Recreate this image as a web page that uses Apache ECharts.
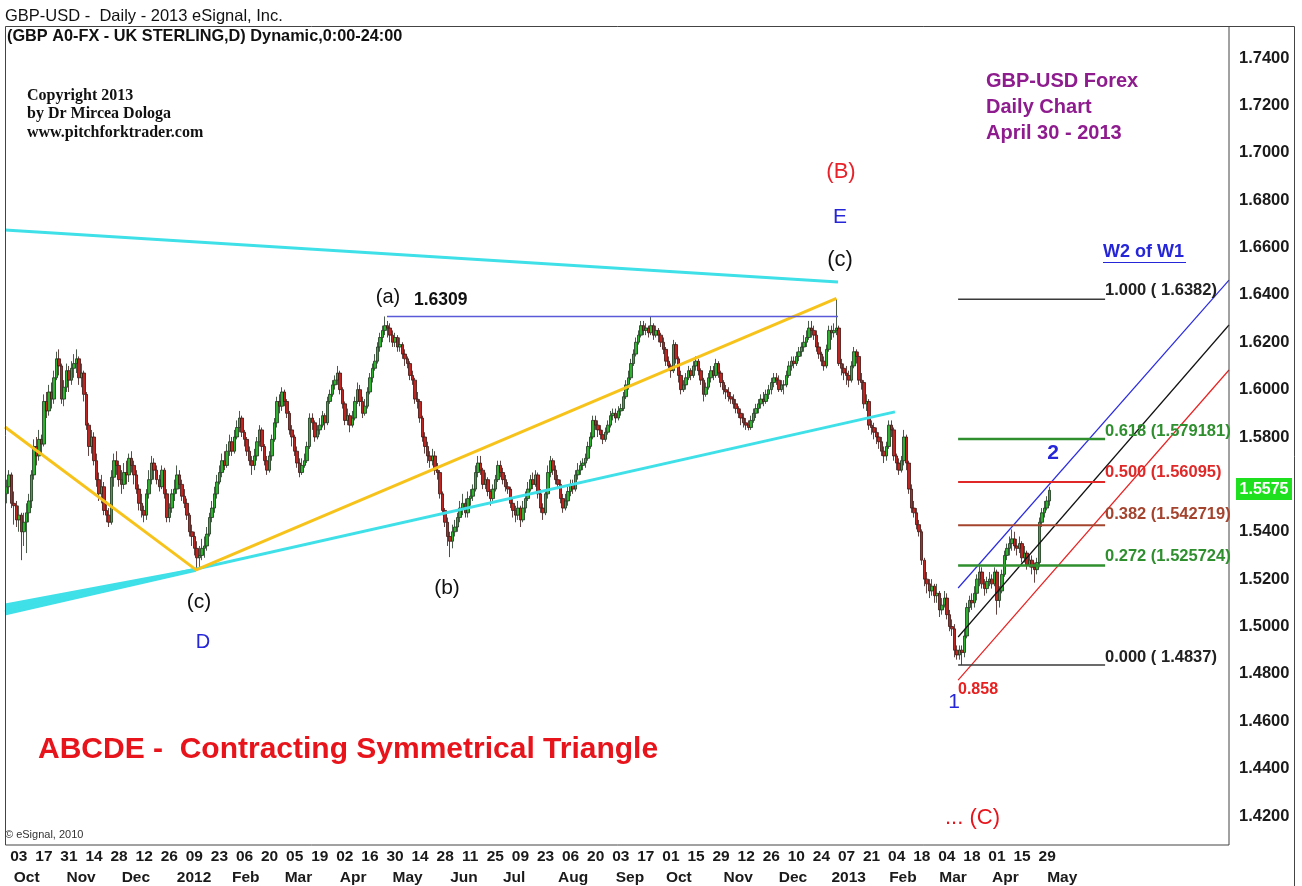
<!DOCTYPE html>
<html><head><meta charset="utf-8">
<script src="https://cdn.jsdelivr.net/npm/echarts@6/dist/echarts.min.js"></script>
<style>html,body{margin:0;padding:0;background:#fff;}#c{width:1302px;height:886px;}</style>
</head><body><div id="c"></div>
<script>
// ---------------- DATA ----------------
// weekday calendar starting Mon 2011-09-26; prices stored as pips after "1." (5590 -> 1.5590)
const startDate = '2011-09-26';
const categoryCount = 488;
const firstOpen = 5560;
const closes = [
5590,5640,5520,5510,5450, 5470,5400,5440,5480,5530, 5640,5760,5720,5790,5770, 5950,5910,5990,5960,6050,
6130,6100,5960,6010,6080, 6040,6090,6110,6130,6050, 6070,5980,5850,5760,5800, 5700,5620,5560,5590,5490,
5470,5440,5630,5700,5680, 5620,5600,5650,5640,5710, 5680,5640,5580,5520,5490, 5470,5560,5620,5690,5660,
5620,5590,5660,5560,5460, 5500,5560,5580,5640,5600, 5550,5520,5470,5400,5380, 5330,5290,5300,5330,5340,
5390,5460,5500,5560,5610, 5650,5700,5680,5740,5780, 5740,5800,5840,5880,5820, 5790,5740,5700,5680,5720,
5780,5830,5760,5700,5660, 5720,5790,5860,5950,5930, 5990,5950,5900,5830,5800, 5740,5690,5650,5680,5700,
5760,5880,5860,5800,5830, 5850,5890,5860,5950,5980, 6020,6040,6070,6000,5940, 5870,5890,5850,5880,5950,
6000,5950,5900,5930,5990, 6050,6090,6120,6180,6220, 6250,6270,6260,6230,6200, 6220,6180,6190,6150,6130,
6110,6060,6040,5960,5950, 5880,5800,5760,5720,5700, 5720,5660,5650,5560,5490, 5440,5380,5360,5400,5420,
5460,5500,5520,5480,5540, 5550,5580,5650,5690,5660, 5600,5620,5570,5540,5580, 5620,5680,5650,5620,5590,
5580,5520,5490,5470,5500, 5450,5500,5540,5580,5620, 5600,5640,5560,5500,5480, 5560,5650,5700,5660,5620,
5600,5540,5500,5530,5570, 5600,5580,5640,5660,5680, 5690,5710,5760,5800,5870, 5850,5830,5810,5790,5820,
5850,5890,5900,5880,5910, 5920,5970,6020,6050,6110, 6150,6200,6230,6270,6250, 6260,6240,6270,6230,6250,
6230,6200,6170,6120,6100, 6080,6190,6130,6060,6000, 6020,6050,6080,6060,6100, 6120,6080,6040,5980,6010,
6050,6080,6060,6110,6070, 6030,6000,5990,5970,5960, 5940,5920,5900,5880,5860, 5850,5840,5870,5900,5920,
5940,5960,5950,5980,6000, 6030,6050,6040,6000,6020, 6020,6060,6100,6120,6110, 6140,6160,6180,6200,6220,
6260,6250,6230,6180,6150, 6120,6100,6170,6250,6240, 6250,6260,6110,6090,6070, 6060,6040,6100,6160,6140,
6040,6030,5940,5950,5850, 5840,5820,5800,5780,5740, 5720,5760,5850,5830,5720, 5690,5660,5700,5800,5690,
5580,5500,5480,5430,5400, 5280,5200,5180,5150,5170, 5130,5140,5070,5090,5120, 5050,5000,4990,4900,4880,
4900,4890,4960,5080,5110, 5100,5140,5200,5230,5180, 5160,5190,5200,5180,5230, 5110,5150,5220,5300,5330,
5350,5370,5340,5330,5350, 5290,5310,5260,5280,5250, 5240,5270,5440,5480,5500, 5530,5575
];
const highs = [
5620,5660,5650,5570,5530, 5510,5480,5480,5520,5560, 5660,5790,5800,5830,5810, 5980,5990,6020,6030,6080,
6160,6170,6110,6040,6110, 6100,6120,6150,6170,6140, 6110,6080,5990,5860,5830, 5820,5730,5650,5640,5610,
5530,5500,5660,5730,5740, 5700,5660,5690,5700,5730, 5740,5700,5660,5600,5560, 5510,5580,5660,5720,5710,
5680,5640,5680,5670,5580, 5520,5580,5620,5680,5660, 5620,5580,5540,5480,5430, 5400,5360,5340,5370,5380,
5420,5480,5530,5590,5640, 5680,5730,5740,5770,5810, 5800,5830,5870,5910,5890, 5830,5800,5760,5720,5750,
5800,5850,5840,5770,5720, 5740,5810,5880,5970,5980, 6010,6000,5960,5910,5850, 5810,5760,5710,5710,5730,
5780,5900,5900,5870,5850, 5880,5910,5900,5970,6000, 6040,6060,6100,6080,6010, 5950,5920,5900,5910,5970,
6030,6020,5970,5960,6010, 6070,6110,6150,6200,6240, 6270,6309,6290,6280,6250, 6240,6230,6220,6200,6170,
6140,6120,6080,6050,5990, 5960,5890,5820,5780,5740, 5750,5740,5690,5660,5570, 5500,5460,5400,5430,5450,
5480,5530,5560,5540,5570, 5580,5600,5680,5720,5720, 5670,5650,5630,5580,5600, 5640,5700,5700,5670,5640,
5610,5590,5540,5510,5530, 5510,5530,5570,5610,5640, 5650,5660,5650,5580,5520, 5580,5680,5720,5710,5680,
5640,5620,5560,5560,5590, 5620,5620,5660,5690,5700, 5710,5730,5780,5820,5890, 5890,5870,5850,5830,5840,
5870,5910,5920,5920,5930, 5940,5990,6040,6080,6130, 6170,6220,6250,6290,6290, 6280,6270,6309,6280,6270,
6260,6240,6220,6180,6140, 6110,6210,6200,6140,6080, 6040,6070,6100,6090,6120, 6140,6130,6090,6050,6030,
6070,6100,6100,6130,6120, 6080,6040,6020,6010,5990, 5980,5960,5930,5920,5900, 5880,5870,5890,5920,5940,
5960,5980,5990,6000,6020, 6050,6070,6070,6060,6040, 6040,6080,6120,6140,6140, 6160,6180,6200,6230,6250,
6290,6290,6270,6250,6200, 6160,6140,6190,6270,6270, 6280,6382,6270,6130,6110, 6100,6080,6120,6180,6170,
6160,6070,6040,5980,5960, 5870,5860,5840,5820,5800, 5760,5780,5870,5870,5840, 5730,5710,5720,5830,5810,
5700,5600,5530,5500,5450, 5410,5290,5230,5200,5200, 5180,5180,5150,5120,5150, 5140,5070,5030,5010,4920,
4920,4920,4990,5100,5130, 5140,5170,5220,5260,5250, 5200,5210,5230,5220,5250, 5240,5170,5240,5320,5350,
5380,5410,5400,5370,5380, 5360,5340,5320,5300,5300, 5270,5290,5460,5500,5530, 5550,5590
];
const lows = [
5520,5560,5500,5430,5420, 5400,5280,5340,5310,5440, 5500,5620,5680,5700,5730, 5760,5880,5890,5920,5940,
6040,6060,5940,5930,5990, 5990,6020,6050,6070,6020, 6010,5950,5830,5720,5730, 5680,5590,5530,5520,5470,
5440,5420,5430,5590,5640, 5590,5560,5580,5600,5610, 5650,5600,5560,5490,5460, 5440,5450,5540,5600,5620,
5600,5570,5580,5540,5440, 5440,5480,5530,5560,5580, 5530,5500,5450,5380,5340, 5300,5240,5250,5280,5290,
5320,5380,5440,5480,5540, 5600,5630,5660,5670,5720, 5720,5730,5790,5820,5800, 5760,5720,5680,5640,5660,
5700,5760,5740,5680,5640, 5650,5700,5780,5840,5900, 5910,5930,5880,5810,5760, 5720,5670,5630,5640,5670,
5690,5750,5830,5780,5790, 5810,5840,5830,5850,5940, 5970,6000,6020,5980,5920, 5850,5850,5820,5840,5870,
5940,5930,5880,5890,5920, 5980,6030,6080,6110,6160, 6200,6230,6220,6200,6180, 6180,6160,6160,6130,6100,
6090,6040,6020,5940,5920, 5860,5780,5730,5690,5670, 5680,5640,5620,5540,5470, 5420,5340,5293,5330,5380,
5400,5440,5470,5460,5460, 5510,5530,5570,5630,5640, 5580,5580,5550,5510,5530, 5570,5610,5630,5600,5570,
5560,5500,5460,5440,5450, 5420,5440,5480,5530,5570, 5580,5590,5540,5480,5450, 5470,5540,5630,5640,5600,
5580,5520,5480,5490,5510, 5550,5560,5570,5620,5640, 5660,5670,5700,5750,5790, 5830,5800,5790,5770,5780,
5810,5840,5870,5860,5870, 5890,5910,5960,6000,6040, 6100,6140,6190,6220,6230, 6230,6220,6230,6210,6220,
6200,6180,6150,6100,6080, 6050,6070,6110,6030,5980, 5990,6000,6040,6040,6050, 6080,6060,6020,5950,5970,
6000,6030,6040,6050,6050, 6010,5980,5960,5950,5940, 5920,5900,5880,5850,5840, 5830,5828,5830,5860,5880,
5900,5920,5930,5940,5960, 5980,6010,6020,5990,5990, 5980,6010,6050,6080,6090, 6100,6120,6140,6160,6180,
6210,6220,6210,6160,6130, 6100,6080,6090,6160,6210, 6220,6230,6100,6060,6040, 6020,6010,6030,6090,6110,
6020,6000,5920,5910,5830, 5810,5790,5770,5750,5720, 5690,5700,5750,5800,5700, 5660,5640,5650,5680,5660,
5560,5480,5460,5410,5380, 5260,5170,5140,5120,5130, 5100,5100,5040,5050,5080, 5030,4980,4960,4870,4860,
4860,4837,4870,4950,5060, 5070,5080,5110,5170,5160, 5130,5140,5170,5160,5170, 5050,5080,5140,5210,5280,
5300,5320,5320,5300,5310, 5270,5270,5240,5250,5220, 5185,5220,5250,5420,5460, 5490,5510
];
// axis tick labels
const priceTicks = [1.42,1.44,1.46,1.48,1.50,1.52,1.54,1.58,1.60,1.62,1.64,1.66,1.68,1.70,1.72,1.74];
const dayTickDates = ['2011-10-03','2011-10-17','2011-10-31','2011-11-14','2011-11-28','2011-12-12','2011-12-26',
'2012-01-09','2012-01-23','2012-02-06','2012-02-20','2012-03-05','2012-03-19','2012-04-02','2012-04-16','2012-04-30',
'2012-05-14','2012-05-28','2012-06-11','2012-06-25','2012-07-09','2012-07-23','2012-08-06','2012-08-20','2012-09-03',
'2012-09-17','2012-10-01','2012-10-15','2012-10-29','2012-11-12','2012-11-26','2012-12-10','2012-12-24','2013-01-07',
'2013-01-21','2013-02-04','2013-02-18','2013-03-04','2013-03-18','2013-04-01','2013-04-15','2013-04-29'];
const monthTicks = [['2011-10-03','Oct'],['2011-11-01','Nov'],['2011-12-01','Dec'],['2012-01-02','2012'],['2012-02-01','Feb'],
['2012-03-01','Mar'],['2012-04-02','Apr'],['2012-05-01','May'],['2012-06-01','Jun'],['2012-07-02','Jul'],['2012-08-01','Aug'],
['2012-09-03','Sep'],['2012-10-01','Oct'],['2012-11-01','Nov'],['2012-12-03','Dec'],['2013-01-01','2013'],['2013-02-01','Feb'],
['2013-03-01','Mar'],['2013-04-01','Apr'],['2013-05-01','May']];
// trend lines: [category index, price]
const yellowLine = [[-0.5,1.5842],[75.7,1.5239],[331,1.6385]];
const cyanUpper = [[-0.5,1.6674],[331.6,1.6454]];
const cyanLowerA = [[-0.5,1.5061],[354.3,1.5906]];
const cyanWedge = [[-0.5,1.5097],[-0.5,1.5046],[75.7,1.5231],[75.7,1.5248]];
const highLine = [[151.8,1.6309],[331.6,1.6309]];
const fibRange = [379.5,438.1];
const fibLevels = [1.6382,1.579181,1.56095,1.542719,1.525724,1.4837];
const chanBlue = [[379.5,1.51625],[487.5,1.6462]];
const chanBlack = [[379.5,1.49557],[487.5,1.62728]];
const chanRed = [[379.5,1.4774],[487.5,1.60829]];
const lastPrice = 1.5575;

// ---------------- BUILD ----------------
const cats = [];
{
  const d = new Date(startDate + 'T00:00:00Z');
  while (cats.length < categoryCount) {
    const wd = d.getUTCDay();
    if (wd !== 0 && wd !== 6) cats.push(d.toISOString().slice(0,10));
    d.setUTCDate(d.getUTCDate() + 1);
  }
}
const px = v => 1 + v / 10000;
const candles = closes.map((c, k) => {
  const o = k === 0 ? firstOpen : closes[k - 1];
  const h = Math.max(highs[k], o, c), l = Math.min(lows[k], o, c);
  return [px(o), px(c), px(l), px(h)];
});
const daySet = new Set(dayTickDates.map(d => cats.indexOf(d)));
const monthMap = {};
monthTicks.forEach(([d, n]) => { monthMap[cats.indexOf(d) - 2] = n; });

const FONT = 'Liberation Sans, Arial, sans-serif';
const SERIF = 'Liberation Serif, Times New Roman, serif';
function lineSeries(data, color, width) {
  return { type:'line', xAxisIndex:2, yAxisIndex:0, data, symbol:'none', silent:true, z:4, animation:false,
           lineStyle:{ color, width, cap:'butt' } };
}
const fibColors = ['#3a3a3a','#2f8f2f','#e02828','#a4442e','#2f8f2f','#3a3a3a'];
const fibWidths = [1.5,2.5,2,2,2.5,1.5];

const series = [
  { type:'candlestick', xAxisIndex:0, yAxisIndex:0, data:candles, barWidth:3, z:2, animation:false,
    itemStyle:{ color:'#2cb22c', color0:'#c02420', borderColor:'#1e321e', borderColor0:'#3a1412', borderWidth:0.8 } },
  { type:'custom', xAxisIndex:2, yAxisIndex:0, silent:true, z:4, animation:false, data:[0],
    renderItem:(params, api) => ({ type:'polygon', shape:{ points: cyanWedge.map(p => api.coord(p)) }, style:{ fill:'#3fe0e8' } }) },
  lineSeries(cyanLowerA, '#3fe0e8', 3),
  lineSeries(cyanUpper, '#3fe0e8', 3),
  lineSeries(yellowLine, '#f7c31a', 3),
  lineSeries(highLine, '#5a5ad8', 1.5),
  lineSeries(chanBlue, '#2a2ae0', 1.2),
  lineSeries(chanBlack, '#111111', 1.2),
  lineSeries(chanRed, '#e82020', 1.2)
];
fibLevels.forEach((p, k) => series.push(lineSeries([[fibRange[0], p],[fibRange[1], p]], fibColors[k], fibWidths[k])));

const T = (text, x, y, font, fill, align) => ({ type:'text', z:100, silent:true,
  style:{ text, x, y, font, fill, align: align || 'left', verticalAlign:'middle', textAlign: align || 'left', textVerticalAlign:'middle' } });
const L = (x1, y1, x2, y2, stroke, w) => ({ type:'line', z:99, silent:true, shape:{x1,y1,x2,y2}, style:{ stroke, lineWidth: w || 1 } });

const graphic = [
  { type:'rect', z:98, silent:true, shape:{x:5.5, y:26.5, width:1223.5, height:818.5}, style:{ fill:'none', stroke:'#444', lineWidth:1 } },
  L(1229, 26.5, 1294.5, 26.5, '#444'), L(1294.5, 26.5, 1294.5, 886, '#444'),
  T('GBP-USD -  Daily - 2013 eSignal, Inc.', 5, 16, '16.5px ' + FONT, '#111'),
  T('(GBP A0-FX - UK STERLING,D) Dynamic,0:00-24:00', 7, 37, 'bold 16.3px ' + FONT, '#111'),
  T('Copyright 2013', 27, 96, 'bold 16px ' + SERIF, '#111'),
  T('by Dr Mircea Dologa', 27, 114, 'bold 16px ' + SERIF, '#111'),
  T('www.pitchforktrader.com', 27, 133, 'bold 16px ' + SERIF, '#111'),
  T('GBP-USD Forex', 986, 81, 'bold 20px ' + FONT, '#8e1c8e'),
  T('Daily Chart', 986, 107, 'bold 20px ' + FONT, '#8e1c8e'),
  T('April 30 - 2013', 986, 133, 'bold 20px ' + FONT, '#8e1c8e'),
  T('(B)', 841, 172, '22px ' + FONT, '#e8222a', 'center'),
  T('E', 840, 217, '21px ' + FONT, '#2626d9', 'center'),
  T('(c)', 840, 260, '22px ' + FONT, '#111', 'center'),
  T('(a)', 388, 297, '20px ' + FONT, '#111', 'center'),
  T('1.6309', 414, 300, 'bold 17.5px ' + FONT, '#111'),
  T('(b)', 447, 588, '21px ' + FONT, '#111', 'center'),
  T('(c)', 199, 602, '21px ' + FONT, '#111', 'center'),
  T('D', 203, 642, '20px ' + FONT, '#2626d9', 'center'),
  T('W2 of W1', 1103, 252, 'bold 18px ' + FONT, '#2626d9'),
  L(1103, 262.5, 1186, 262.5, '#2626d9', 1.2),
  T('2', 1053, 453, 'bold 21px ' + FONT, '#2626d9', 'center'),
  T('1', 954, 702, '21px ' + FONT, '#2626d9', 'center'),
  T('0.858', 958, 690, 'bold 16px ' + FONT, '#e82020'),
  T('ABCDE -  Contracting Symmetrical Triangle', 38, 750, 'bold 30px ' + FONT, '#e8141c'),
  T('... (C)', 945, 818, '22px ' + FONT, '#e8141c'),
  T('\u00a9 eSignal, 2010', 5, 835, '11px ' + FONT, '#333'),
  T('1.000 ( 1.6382)', 1105, 290, 'bold 16.5px ' + FONT, '#222'),
  T('0.618 (1.579181)', 1105, 431, 'bold 16.5px ' + FONT, '#2f8f2f'),
  T('0.500 (1.56095)', 1105, 472, 'bold 16.5px ' + FONT, '#e02828'),
  T('0.382 (1.542719)', 1105, 514, 'bold 16.5px ' + FONT, '#a4442e'),
  T('0.272 (1.525724)', 1105, 556, 'bold 16.5px ' + FONT, '#2f8f2f'),
  T('0.000 ( 1.4837)', 1105, 657, 'bold 16.5px ' + FONT, '#222'),
  { type:'rect', z:100, silent:true, shape:{x:1236, y:478, width:56, height:22}, style:{ fill:'#1fe01f' } },
  T(lastPrice.toFixed(4), 1264, 489.5, 'bold 16px ' + FONT, '#ffffff', 'center')
];

const chart = echarts.init(document.getElementById('c'));
chart.setOption({
  animation:false,
  backgroundColor:'#ffffff',
  grid:{ left:5, right:73, top:10.625, bottom:22.625, containLabel:false, outerBoundsMode:'none' },
  xAxis:[
    { type:'category', data:cats, boundaryGap:true, gridIndex:0, position:'bottom', offset:-18.4,
      axisLine:{show:false}, axisTick:{show:false}, splitLine:{show:false},
      axisLabel:{ interval:(i) => daySet.has(i), formatter:(v) => v.slice(8,10), margin:4, hideOverlap:false,
                  fontFamily:FONT, fontWeight:'bold', fontSize:15.5, color:'#1a1a1a' } },
    { type:'category', data:cats, boundaryGap:true, gridIndex:0, position:'bottom', offset:2.6,
      axisLine:{show:false}, axisTick:{show:false}, splitLine:{show:false},
      axisLabel:{ interval:(i) => monthMap[i] !== undefined, formatter:(v, i) => monthMap[i] || '', align:'left', margin:4, hideOverlap:false,
                  fontFamily:FONT, fontWeight:'bold', fontSize:15.5, color:'#1a1a1a' } },
    { type:'value', min:-0.5, max:categoryCount - 0.5, gridIndex:0, show:false }
  ],
  yAxis:[{ type:'value', position:'right', min:1.40, max:1.76, interval:0.02, scale:true,
    axisLine:{show:false}, axisTick:{show:false}, splitLine:{show:false},
    axisLabel:{ margin:10, fontFamily:FONT, fontWeight:'bold', fontSize:16.5, color:'#1a1a1a',
      formatter:(v) => priceTicks.some(t => Math.abs(t - v) < 1e-6) ? v.toFixed(4) : '' } }],
  series,
  graphic
});
</script>
</body></html>
